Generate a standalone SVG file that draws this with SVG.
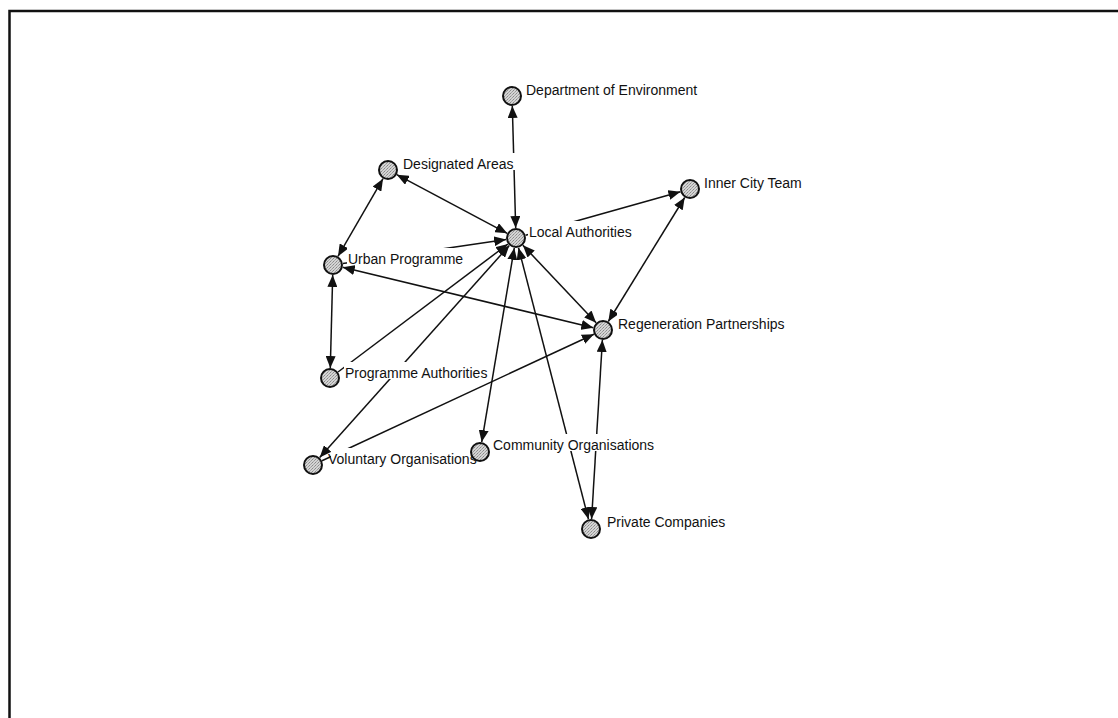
<svg xmlns="http://www.w3.org/2000/svg" width="1118" height="718" viewBox="0 0 1118 718">
  <style>
    .frame { fill: none; stroke: #111; stroke-width: 2.5; }
    .edge { fill: none; stroke: #111; stroke-width: 1.5; }
    .both { marker-start: url(#arrow); marker-end: url(#arrow); }
    .one { marker-end: url(#arrow); }
    .node circle { fill: url(#dither); stroke: #111; stroke-width: 2; }
    .node rect { fill: #fff; stroke: none; }
    .node text { font-family: "Liberation Sans", Arial, sans-serif; font-size: 14px; fill: #111; }
  </style>
  <defs>
    <marker id="arrow" viewBox="0 0 12 10" refX="12" refY="5" markerWidth="12" markerHeight="10" markerUnits="userSpaceOnUse" orient="auto-start-reverse">
      <path d="M0,0 L12,5 L0,10 Z" fill="#111"/>
    </marker>
    <pattern id="dither" width="3" height="3" patternUnits="userSpaceOnUse">
      <rect width="3" height="3" fill="#d4d4d4"/>
      <rect x="0" y="0" width="1" height="1" fill="#8a8a8a"/>
      <rect x="2" y="1" width="1" height="1" fill="#9a9a9a"/>
      <rect x="1" y="2" width="1" height="1" fill="#a8a8a8"/>
    </pattern>
  </defs>

  <rect width="1118" height="718" fill="#fff"/>
  <path class="frame" d="M9.5,720 V11 H1120"/>

  <!-- connectors -->
  <g id="connectors">
    <line class="edge both" x1="512.3" y1="106" x2="515.7" y2="228"/>
    <line class="edge both" x1="396.8" y1="174.7" x2="507.2" y2="233.3"/>
    <line class="edge both" x1="383" y1="178.7" x2="338" y2="256.3"/>
    <line class="edge one" x1="525.6" y1="235.3" x2="680.4" y2="191.7"/>
    <line class="edge one" x1="342.9" y1="263.5" x2="506.1" y2="239.5"/>
    <line class="edge both" x1="342.7" y1="267.3" x2="593.3" y2="327.7"/>
    <line class="edge both" x1="332.7" y1="275" x2="330.3" y2="368"/>
    <line class="edge one" x1="338" y1="372" x2="508" y2="244"/>
    <line class="edge both" x1="509.3" y1="245.5" x2="319.7" y2="457.5"/>
    <line class="edge both" x1="514.3" y1="247.9" x2="481.7" y2="442.1"/>
    <line class="edge both" x1="518.5" y1="247.7" x2="588.5" y2="519.3"/>
    <line class="edge both" x1="522.9" y1="245.3" x2="596.1" y2="322.7"/>
    <line class="edge both" x1="684.7" y1="197.5" x2="608.3" y2="321.5"/>
    <line class="edge one" x1="322" y1="460.8" x2="593.9" y2="334.2"/>
    <line class="edge both" x1="602.4" y1="340" x2="591.6" y2="519"/>
  </g>

  <!-- nodes -->
  <g id="department-of-environment" class="node">
    <rect x="525" y="79" width="174" height="17"/>
    <circle cx="512" cy="96" r="9"/>
    <text x="526" y="95">Department of Environment</text>
  </g>
  <g id="designated-areas" class="node">
    <rect x="402" y="153" width="114" height="17"/>
    <circle cx="388" cy="170" r="9"/>
    <text x="403" y="169">Designated Areas</text>
  </g>
  <g id="local-authorities" class="node">
    <rect x="528" y="221" width="106" height="17"/>
    <circle cx="516" cy="238" r="9"/>
    <text x="529" y="237">Local Authorities</text>
  </g>
  <g id="inner-city-team" class="node">
    <rect x="703" y="172" width="102" height="17"/>
    <circle cx="690" cy="189" r="9"/>
    <text x="704" y="188">Inner City Team</text>
  </g>
  <g id="urban-programme" class="node">
    <rect x="347" y="248" width="117" height="17"/>
    <circle cx="333" cy="265" r="9"/>
    <text x="348" y="264">Urban Programme</text>
  </g>
  <g id="regeneration-partnerships" class="node">
    <rect x="617" y="313" width="169" height="17"/>
    <circle cx="603" cy="330" r="9"/>
    <text x="618" y="329">Regeneration Partnerships</text>
  </g>
  <g id="programme-authorities" class="node">
    <rect x="344" y="362" width="145" height="17"/>
    <circle cx="330" cy="378" r="9"/>
    <text x="345" y="378">Programme Authorities</text>
  </g>
  <g id="voluntary-organisations" class="node">
    <rect x="331" y="448" width="147" height="17"/>
    <circle cx="313" cy="465" r="9"/>
    <text x="328" y="464">Voluntary Organisations</text>
  </g>
  <g id="community-organisations" class="node">
    <rect x="492" y="434" width="164" height="17"/>
    <circle cx="480" cy="452" r="9"/>
    <text x="493" y="450">Community Organisations</text>
  </g>
  <g id="private-companies" class="node">
    <rect x="606" y="511" width="121" height="17"/>
    <circle cx="591" cy="529" r="9"/>
    <text x="607" y="527">Private Companies</text>
  </g>
</svg>
